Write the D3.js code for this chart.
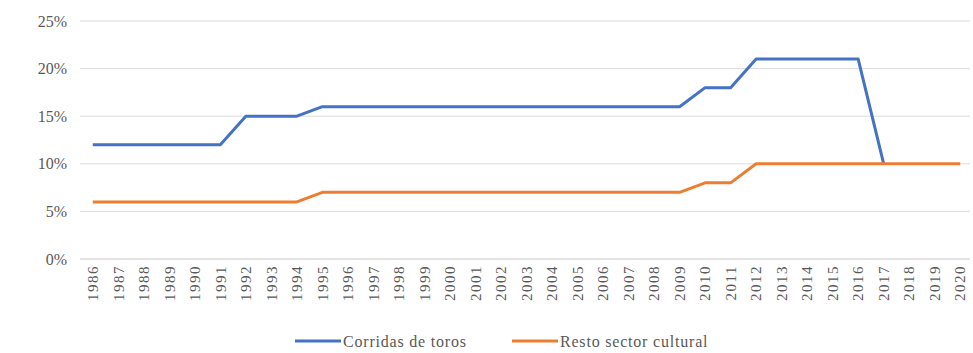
<!DOCTYPE html>
<html>
<head>
<meta charset="utf-8">
<script src="https://cdn.jsdelivr.net/npm/d3@7"></script>
<style>
  html, body { margin: 0; padding: 0; background: #fff; }
  svg { display: block; }
  svg text { font-family: "Liberation Serif", "DejaVu Serif", serif; }
</style>
</head>
<body>
<svg id="chart" width="973" height="353"></svg>
<script>
// Years on the x axis
const years = ["1986","1987","1988","1989","1990","1991","1992","1993","1994","1995",
  "1996","1997","1998","1999","2000","2001","2002","2003","2004","2005","2006","2007",
  "2008","2009","2010","2011","2012","2013","2014","2015","2016","2017","2018","2019","2020"];

// Percentages per year (null where the series has no value)
const corridas = [12,12,12,12,12,12,15,15,15,16,16,16,16,16,16,16,16,16,16,16,16,16,
  16,16,18,18,21,21,21,21,21,10,null,null,null];
const resto = [6,6,6,6,6,6,6,6,6,7,7,7,7,7,7,7,7,7,7,7,7,7,
  7,7,8,8,10,10,10,10,10,10,10,10,10];

const yTicks = [0, 5, 10, 15, 20, 25];

const seriesNames = ["Corridas de toros", "Resto sector cultural"];
const seriesColors = ["#4472C4", "#ED7D31"];

const svg = d3.select("#chart");
const margin = { left: 80, right: 0, top: 21, bottom: 94 };
const width = 973, height = 353;

const x = d3.scaleBand().domain(years).range([margin.left, width - margin.right]);
const y = d3.scaleLinear().domain([0, 25]).range([height - margin.bottom, margin.top]);

// Horizontal gridlines
svg.append("g").selectAll("line").data(yTicks).join("line")
  .attr("x1", margin.left).attr("x2", width - 3)
  .attr("y1", d => y(d)).attr("y2", d => y(d))
  .attr("stroke", d => d === 0 ? "#c8c8c8" : "#dcdcdc")
  .attr("stroke-width", 1);

// Y axis labels
const yAxis = d3.axisLeft(y).tickValues(yTicks).tickFormat(d => d + "%").tickSize(0).tickPadding(0);
const gy = svg.append("g").attr("transform", `translate(${margin.left - 13},0)`).call(yAxis);
gy.select(".domain").remove();
gy.selectAll("text").attr("font-size", 16).attr("fill", "#595959")
  .attr("font-family", null);

// X axis labels, rotated
const xAxis = d3.axisBottom(x).tickSize(0).tickPadding(0);
const gx = svg.append("g").attr("transform", `translate(0,${y(0)})`).call(xAxis);
gx.select(".domain").remove();
gx.selectAll("text")
  .attr("font-size", 15).attr("fill", "#595959")
  .attr("letter-spacing", 1.5)
  .attr("transform", "rotate(-90)")
  .attr("text-anchor", "end")
  .attr("x", -6).attr("y", 0).attr("dy", "0.35em");

// Series lines
const line = d3.line()
  .defined(d => d.v !== null)
  .x(d => x(d.year) + x.bandwidth() / 2)
  .y(d => y(d.v));

[corridas, resto].forEach((vals, i) => {
  const pts = years.map((yr, j) => ({ year: yr, v: vals[j] }));
  svg.append("path")
    .datum(pts)
    .attr("fill", "none")
    .attr("stroke", seriesColors[i])
    .attr("stroke-width", 3)
    .attr("stroke-linejoin", "round")
    .attr("d", line);
});

// Legend
const legendY = 341;
const legendItems = [
  { x: 295, name: seriesNames[0], color: seriesColors[0] },
  { x: 512, name: seriesNames[1], color: seriesColors[1] }
];
const lg = svg.append("g");
legendItems.forEach(it => {
  lg.append("line")
    .attr("x1", it.x).attr("x2", it.x + 46)
    .attr("y1", legendY).attr("y2", legendY)
    .attr("stroke", it.color).attr("stroke-width", 3);
  lg.append("text")
    .attr("x", it.x + 48).attr("y", legendY).attr("dy", "0.35em")
    .attr("font-size", 16).attr("fill", "#595959")
    .attr("letter-spacing", 0.8)
    .text(it.name);
});
</script>
</body>
</html>
